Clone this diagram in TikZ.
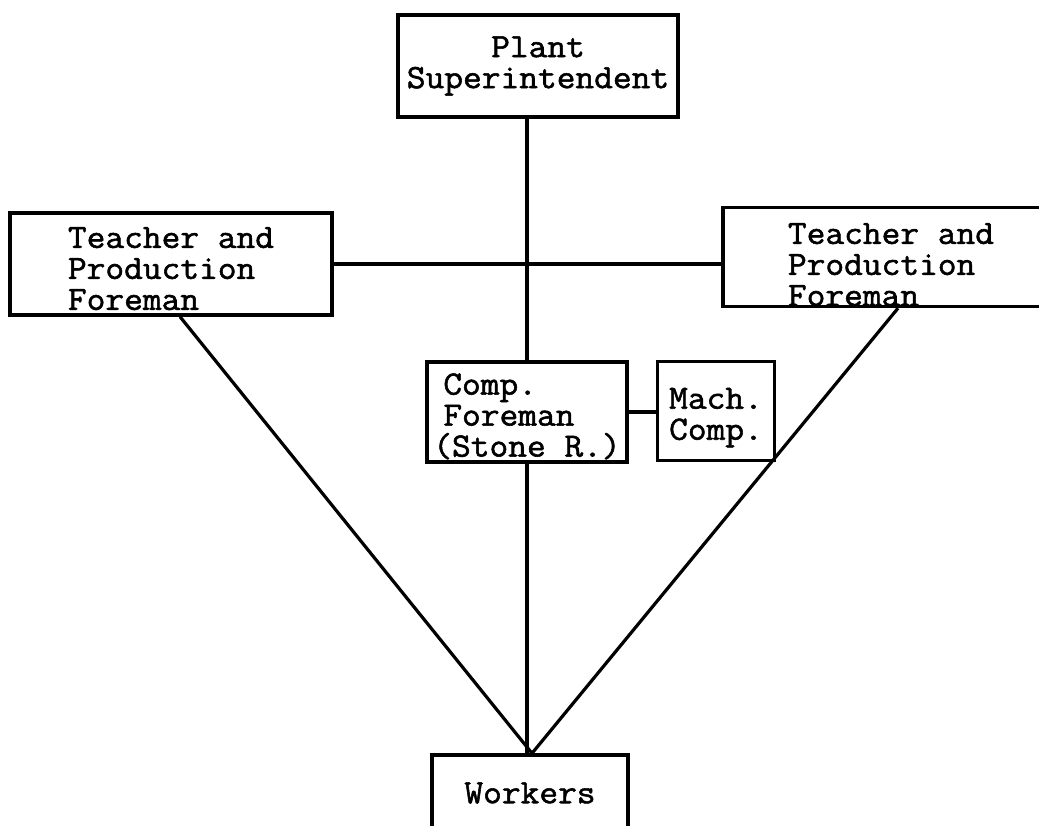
\documentclass[tikz,border=0pt]{standalone}
\usepackage{fontspec}
\newfontfamily\typer{Latin Modern Mono}[FakeBold=1.6,FakeStretch=1.07]
\usetikzlibrary{positioning}

\begin{document}
\begin{tikzpicture}[x=1pt,y=-1pt,
  box/.style={rectangle,draw,line width=3.4pt,inner sep=0pt,align=left,
    font=\typer\fontsize{34}{31}\selectfont},
  link/.style={line width=3.2pt}]
\useasboundingbox (0,0) rectangle (1039,826);
\clip (0,0) rectangle (1039,826);
\fill[white] (0,0) rectangle (1039,826);
\node[box,align=center,minimum width=280pt,minimum height=102pt] (plant) at (538,66)
  {Plant\\Superintendent};
\node[box,minimum width=322pt,minimum height=102pt] (tleft) at (171,264)
  {\rule{0pt}{30pt}Teacher and\\Production\\Foreman};
\node[box,minimum width=336pt,minimum height=99pt] (tright) at (891,257)
  {\rule{0pt}{36pt}Teacher and\\Production\\Foreman};
\node[box,minimum width=200pt,minimum height=100pt] (comp) at (527,412)
  {\rule{0pt}{30pt}\hspace*{10pt}Comp.\\\hspace*{10pt}Foreman\\(Stone R.)};
\node[box,minimum width=117pt,minimum height=99pt] (mach) at (716,411)
  {\rule{0pt}{34pt}Mach.\\Comp.};
\node[box,minimum width=196pt,minimum height=76pt] (workers) at (530,793)
  {Workers};
% lines of authority
\draw[link] (plant.south -| comp.north) -- (comp.north);
\draw[link] (comp.south) -- (comp.south |- workers.north);
\draw[link] (tleft.east) -- (tleft.east -| tright.west);
\draw[link] (comp.east) -- (comp.east -| mach.west);
\draw[link] ([xshift=9pt]tleft.south) -- ([xshift=2pt]workers.north);
\draw[link] ([xshift=7pt]tright.south) -- ([xshift=2pt]workers.north);
\end{tikzpicture}
\end{document}
